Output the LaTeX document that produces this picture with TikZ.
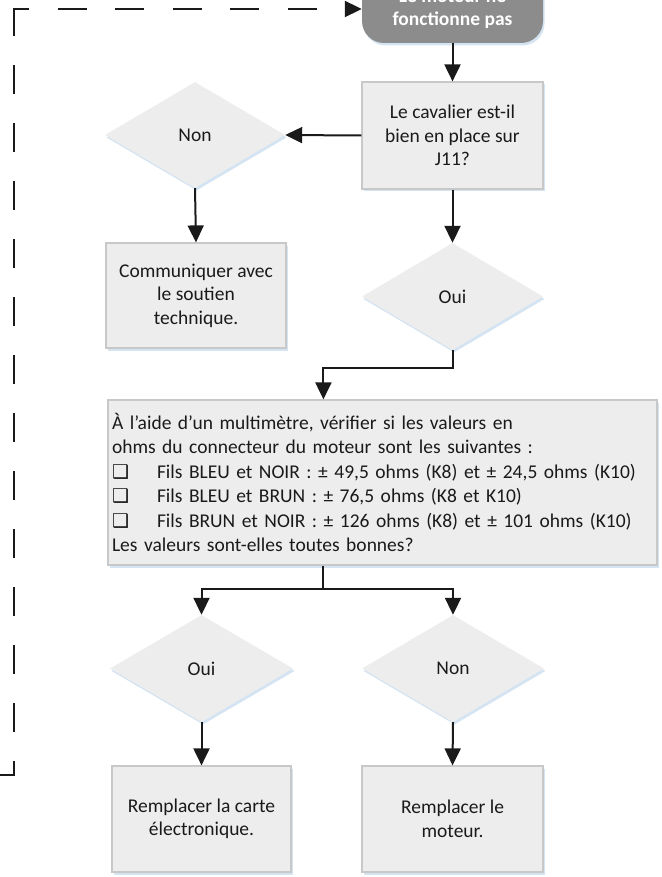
\documentclass[tikz,border=0pt]{standalone}
\usepackage{fontspec}
\setmainfont{Carlito}
\newfontfamily\symfont{DejaVu Sans}
\usetikzlibrary{shapes.geometric,arrows.meta,shadows}

\definecolor{boxfill}{HTML}{EDEDED}
\definecolor{boxline}{HTML}{C8C8C8}
\definecolor{termfill}{HTML}{8C8C8C}
\definecolor{shadowblue}{HTML}{D5E4F2}
\definecolor{ink}{HTML}{1A1A1A}

% check box in front of each measurement line
\newcommand\checkitem{\makebox[45pt][l]{\symfont\fontsize{19}{19}\selectfont ❑}}

\tikzset{
  every node/.style={font=\fontsize{19.5}{23.5}\selectfont, text=ink, inner sep=0pt},
  softshadow/.style={drop shadow={shadow xshift=1.5pt, shadow yshift=-2.5pt, fill=shadowblue, opacity=1}},
  procbox/.style={rectangle, fill=boxfill, draw=boxline, line width=1.2pt, softshadow, align=center},
  decision/.style={diamond, fill=boxfill, softshadow, align=center},
  terminal/.style={rectangle, rounded corners=22pt, fill=termfill, softshadow, text=white,
                   font=\bfseries\fontsize{19.5}{23.5}\selectfont, align=center},
  flow/.style={draw=ink, line width=2pt},
  arr/.style={flow, -{Triangle[length=17pt,width=16pt]}},
}

\begin{document}
\begin{tikzpicture}[x=1pt, y=-1pt]
  \useasboundingbox (0,0) rectangle (661,877);

  % start / terminator
  \node[terminal, minimum width=181pt, minimum height=68pt] (term) at (452.5,9) {Le moteur ne\\fonctionne pas};

  % first check
  \node[procbox, minimum width=181pt, minimum height=107pt] (q1) at (452.5,135.5)
    {Le cavalier est-il\\bien en place sur\\J11?};
  \node[decision, minimum width=180pt, minimum height=106pt] (no1) at (195,135) {Non};
  \node[procbox, minimum width=180pt, minimum height=105pt] (support) at (196,295.5)
    {Communiquer avec\\le soutien\\technique.};
  \node[decision, minimum width=181pt, minimum height=107pt] (yes1) at (452.5,296.5) {Oui};

  % resistance measurement
  \node[procbox, align=left, text width=541pt, inner xsep=4pt, minimum height=165pt,
        font=\fontsize{19.5}{24.4}\selectfont] (meas) at (382.5,482.5)
    {À l’aide d’un multimètre, vérifier si les valeurs en\\
     ohms du connecteur du moteur sont les suivantes :\\
     \checkitem Fils BLEU et NOIR : ± 49,5 ohms (K8) et ± 24,5 ohms (K10)\\
     \checkitem Fils BLEU et BRUN : ± 76,5 ohms (K8 et K10)\\
     \checkitem Fils BRUN et NOIR : ± 126 ohms (K8) et ± 101 ohms (K10)\\
     Les valeurs sont-elles toutes bonnes?};

  % outcomes
  \node[decision, minimum width=183pt, minimum height=107pt] (yes2) at (201.5,668.5) {Oui};
  \node[decision, minimum width=182pt, minimum height=107pt] (no2) at (453,668.5) {Non};
  \node[procbox, minimum width=179pt, minimum height=106pt] (board) at (201.5,819)
    {Remplacer la carte\\électronique.};
  \node[procbox, minimum width=181pt, minimum height=106pt] (motor) at (452.5,819)
    {Remplacer le\\moteur.};

  % connectors
  \draw[arr] (term.south) -- (q1.north);
  \draw[arr] (q1.west) -- (no1.east);
  \draw[arr] (no1.south) -- (support.north);
  \draw[arr] (q1.south) -- (yes1.north);
  \draw[arr] (yes1.south) -- ++(0,18) -| ([xshift=216pt]meas.north west);
  \coordinate (split) at ([xshift=216pt,yshift=-23pt]meas.south west);
  \draw[flow] ([xshift=216pt]meas.south west) -- (split);
  \draw[arr] (split) -| (yes2.north);
  \draw[arr] (split) -| (no2.north);
  \draw[arr] (yes2.south) -- (board.north);
  \draw[arr] (no2.south) -- (motor.north);

  % dashed return to the start
  \coordinate (loopin) at (0,775);
  \coordinate (loopturn) at (14,775);
  \coordinate (looptop) at (14,9);
  \draw[flow, line cap=rect, dash pattern=on 27pt off 31pt] (loopin) -- (loopturn) -- (looptop);
  \draw[arr, dash pattern=on 29pt off 28.5pt, dash phase=14pt] (looptop) -- (term.west);
\end{tikzpicture}
\end{document}
